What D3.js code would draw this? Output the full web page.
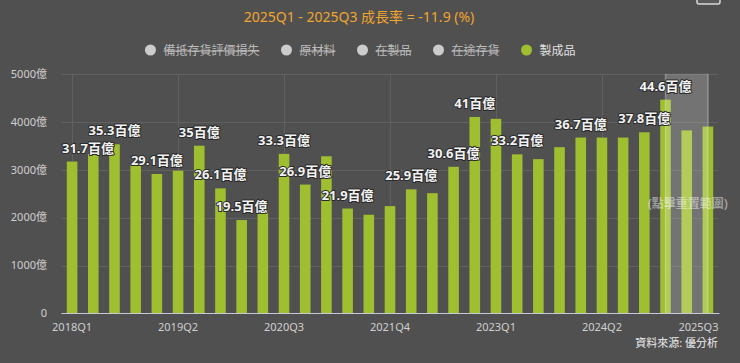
<!DOCTYPE html>
<html>
<head>
<meta charset="utf-8">
<script src="https://cdn.jsdelivr.net/npm/d3@7"></script>
<style>
  body { margin: 0; background: #505050; }
  svg { display: block; font-family: "Noto Sans", "Noto Sans CJK TC", sans-serif; }
</style>
</head>
<body>
<div id="chart"></div>
<script>
// quarters 2018Q1 .. 2025Q3
const quarters = [];
for (let y = 2018; y <= 2025; y++) {
    for (let q = 1; q <= 4; q++) {
        if (y === 2025 && q > 3) break;
        quarters.push(y + "Q" + q);
    }
}

// 製成品 (億)
const finishedGoods = [3170, 3330, 3530, 3100, 2910, 2980, 3500, 2610, 1950, 2160,
                       3330, 2690, 3280, 2190, 2060, 2240, 2590, 2510, 3060, 4100,
                       4060, 3320, 3220, 3470, 3670, 3670, 3670, 3780, 4460, 3820, 3900];

// bars whose data label is drawn (others hidden by overlap)
const labelledIdx = [0, 2, 4, 6, 7, 8, 10, 11, 13, 16, 18, 19, 21, 24, 27, 28];

const tickLabels = ["2018Q1", "2019Q2", "2020Q3", "2021Q4", "2023Q1", "2024Q2", "2025Q3"];
const yTicks = [0, 1000, 2000, 3000, 4000, 5000];

const legendItems = [
    { name: "備抵存貨評價損失", visible: false },
    { name: "原材料", visible: false },
    { name: "在製品", visible: false },
    { name: "在途存貨", visible: false },
    { name: "製成品", visible: true }
];

const rangeStart = "2025Q1", rangeEnd = "2025Q3";
const titleText = "2025Q1 - 2025Q3 成長率 = -11.9 (%)";

const width = 740, height = 363;
const plotLeft = 61.5, plotRight = 718.5, plotTop = 73.8, plotBottom = 313.5;
const barColor = "#9fbe30";

const svg = d3.select("#chart").append("svg")
    .attr("width", width)
    .attr("height", height);

svg.append("rect").attr("width", width).attr("height", height).attr("fill", "#505050");

const x = d3.scaleBand()
    .domain(quarters)
    .range([plotLeft, plotRight])
    .paddingInner(0.5)
    .paddingOuter(0.25);

const y = d3.scaleLinear().domain([0, 5000]).range([plotBottom, plotTop]);

const cx = d => x(d) + x.bandwidth() / 2;

// horizontal grid
svg.append("g").selectAll("line")
    .data(yTicks.filter(t => t > 0))
    .enter().append("line")
    .attr("x1", plotLeft).attr("x2", plotRight)
    .attr("y1", d => Math.round(y(d)) + 0.5).attr("y2", d => Math.round(y(d)) + 0.5)
    .attr("stroke", "#606060");

// vertical grid at labelled ticks
svg.append("g").selectAll("line")
    .data(tickLabels)
    .enter().append("line")
    .attr("x1", d => Math.round(cx(d)) + 0.5).attr("x2", d => Math.round(cx(d)) + 0.5)
    .attr("y1", plotTop).attr("y2", plotBottom)
    .attr("stroke", "#606060");

// y labels
svg.append("g").selectAll("text")
    .data(yTicks)
    .enter().append("text")
    .attr("x", 47)
    .attr("y", d => y(d))
    .attr("dy", "0.35em")
    .attr("text-anchor", "end")
    .attr("fill", "#cfcfcf")
    .attr("font-size", 11)
    .text(d => d === 0 ? "0" : d + "億");

// bars
svg.append("g").selectAll("rect")
    .data(finishedGoods)
    .enter().append("rect")
    .attr("x", (d, i) => x(quarters[i]))
    .attr("y", d => y(d))
    .attr("width", x.bandwidth())
    .attr("height", d => y(0) - y(d))
    .attr("fill", barColor);

// selected range band
const bx0 = cx(rangeStart), bx1 = cx(rangeEnd);
svg.append("rect")
    .attr("x", bx0).attr("y", plotTop)
    .attr("width", bx1 - bx0).attr("height", plotBottom - plotTop)
    .attr("fill", "rgba(255,255,255,0.2)");
[bx0, bx1].forEach(v => {
    svg.append("line")
        .attr("x1", v).attr("x2", v).attr("y1", plotTop).attr("y2", plotBottom)
        .attr("stroke", "rgba(255,255,255,0.25)").attr("stroke-width", 1.5);
});
svg.append("text")
    .attr("x", (bx0 + bx1) / 2 + 1)
    .attr("y", 208)
    .attr("text-anchor", "middle")
    .attr("font-size", 12)
    .attr("font-weight", "bold")
    .attr("fill", "rgba(255,255,255,0.45)")
    .text("(點擊重置範圍)");

// x axis line
svg.append("line")
    .attr("x1", plotLeft).attr("x2", plotRight + 1)
    .attr("y1", plotBottom).attr("y2", plotBottom)
    .attr("stroke", "#c8c8d8");

// x labels (justified into plot on the right)
svg.append("g").selectAll("text")
    .data(tickLabels)
    .enter().append("text")
    .attr("y", 331)
    .attr("font-size", 11)
    .attr("fill", "#cfcfcf")
    .text(d => d)
    .each(function (d) {
        const w = this.getComputedTextLength();
        let left = cx(d) - w / 2;
        if (left + w > plotRight) left = plotRight - w;
        d3.select(this).attr("x", left);
    });

// data labels
const fmt = v => {
    const s = (v / 100).toFixed(1);
    return (s.endsWith(".0") ? s.slice(0, -2) : s) + "百億";
};
svg.append("g").selectAll("text")
    .data(labelledIdx)
    .enter().append("text")
    .attr("y", i => y(finishedGoods[i]) - 9)
    .attr("font-size", 13)
    .attr("font-weight", "bold")
    .attr("fill", "#f2f2f2")
    .attr("stroke", "#2a2a2a")
    .attr("stroke-width", 2)
    .attr("stroke-linejoin", "round")
    .attr("paint-order", "stroke")
    .text(i => fmt(finishedGoods[i]))
    .each(function (i) {
        const w = this.getComputedTextLength();
        let left = cx(quarters[i]) - w / 2;
        if (left < plotLeft + 0.5) left = plotLeft + 0.5;
        if (left + w > plotRight) left = plotRight - w;
        d3.select(this).attr("x", left);
    });

// title
svg.append("text")
    .attr("x", 359)
    .attr("y", 22)
    .attr("text-anchor", "middle")
    .attr("font-size", 14)
    .attr("fill", "#f0a52c")
    .text(titleText);

// legend
const legend = svg.append("g");
let lx = 0;
legendItems.forEach(item => {
    const g = legend.append("g").attr("transform", `translate(${lx},0)`);
    g.append("circle")
        .attr("cx", 5).attr("cy", 50).attr("r", 5.5)
        .attr("fill", item.visible ? barColor : "#cccccc");
    const t = g.append("text")
        .attr("x", 18).attr("y", 54.5)
        .attr("font-size", 12)
        .attr("fill", item.visible ? "#e0e0e0" : "#bdbdbd")
        .text(item.name);
    const tw = t.node().getComputedTextLength();
    // hidden series are struck through
    if (!item.visible) {
        g.append("line")
            .attr("x1", 18).attr("x2", 18 + tw)
            .attr("y1", 51).attr("y2", 51)
            .attr("stroke", "#bdbdbd").attr("stroke-width", 1);
    }
    lx += 18 + tw + 22;
});
const legendW = lx - 22;
legend.attr("transform", `translate(${360.5 - legendW / 2},0)`);

// export button (partially visible)
svg.append("rect")
    .attr("x", 697).attr("y", -10).attr("width", 23).attr("height", 14).attr("rx", 2)
    .attr("fill", "#5a5a5a").attr("stroke", "#d8d8d8").attr("stroke-width", 1.5);

// source
svg.append("text")
    .attr("x", 718)
    .attr("y", 347)
    .attr("text-anchor", "end")
    .attr("font-size", 11)
    .attr("fill", "#ececec")
    .text("資料來源: 優分析");
</script>
</body>
</html>
